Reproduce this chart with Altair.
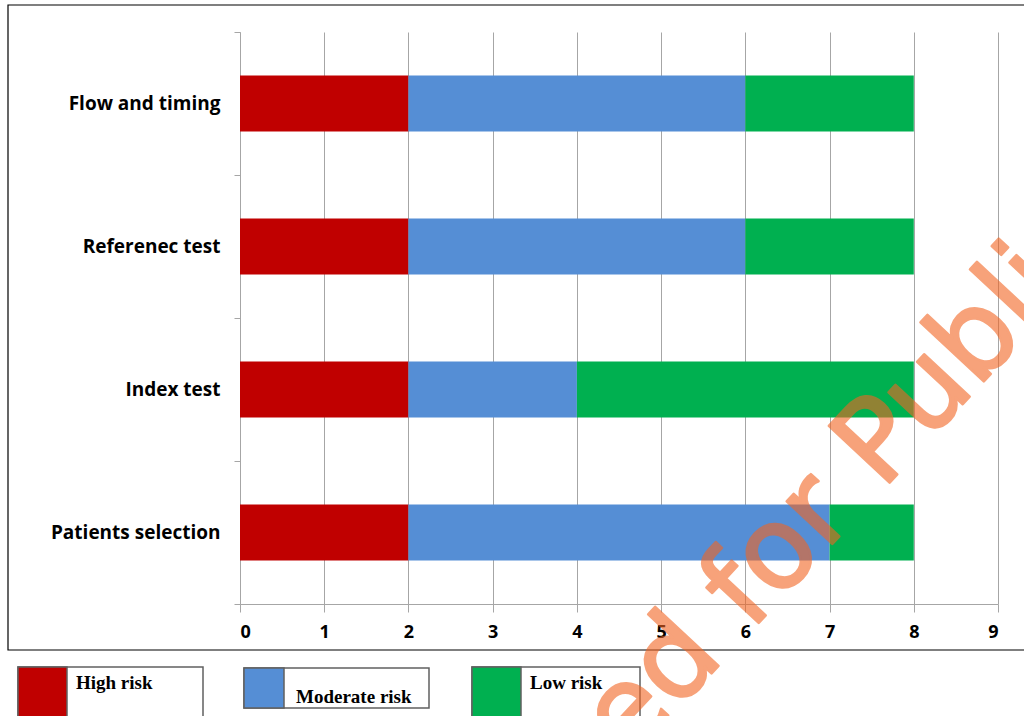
import altair as alt
import pandas as pd

categories = ["Flow and timing", "Referenec test", "Index test", "Patients selection"]
series = ["High risk", "Moderate risk", "Low risk"]
colors = ["#C00000", "#558ED5", "#00B050"]
high = [2, 2, 2, 2]
moderate = [4, 4, 2, 5]
low = [2, 2, 4, 1]
x_ticks = list(range(0, 10))
watermark = "Accepted for Publication"

rows = []
for i, c in enumerate(categories):
    for j, vals in enumerate([high, moderate, low]):
        rows.append({"category": c, "series": series[j], "order": j, "value": vals[i]})
df = pd.DataFrame(rows)

GRAY = "#a6a6a6"
W, H = 758, 572

bars = alt.Chart(df).mark_bar(height={"band": 56 / 143}).encode(
    x=alt.X("value:Q", stack="zero",
            scale=alt.Scale(domain=[0, 9], nice=False),
            axis=alt.Axis(values=x_ticks, grid=True, gridColor=GRAY, gridWidth=1,
                          domainColor=GRAY, tickColor=GRAY, tickSize=8,
                          labelFont="Open Sans", labelFontWeight="bold", labelFontSize=18,
                          labelColor="#000000", labelPadding=11, title=None)),
    y=alt.Y("category:N", sort=categories,
            scale=alt.Scale(paddingInner=0, paddingOuter=0),
            axis=alt.Axis(tickBand="extent", grid=False, domainColor=GRAY, tickColor=GRAY,
                          tickSize=6, labelFont="Open Sans", labelFontWeight="bold",
                          labelFontSize=19, labelColor="#000000", labelPadding=14,
                          title=None)),
    color=alt.Color("series:N", sort=series,
                    scale=alt.Scale(domain=series, range=colors), legend=None),
    order=alt.Order("order:Q"),
)

one = pd.DataFrame({"k": [0]})

frame = alt.Chart(one).mark_rect(fill=None, stroke="#000000", strokeWidth=1.2).encode(
    x=alt.value(-232), x2=alt.value(800), y=alt.value(-27), y2=alt.value(618)
)

layers = [frame, bars]

leg_pos = [(-222, -173, 635, 700, -164, 651),
           (4, 44, 636, 676, 56, 665),
           (232, 281, 635, 700, 290, 651)]
for (x0, x1, y0, y1, tx, ty), s, col in zip(leg_pos, series, colors):
    box_right = x0 + (185 if s != "Low risk" else 168)
    layers.append(alt.Chart(one).mark_rect(fill="white", stroke="#606060", strokeWidth=1.5).encode(
        x=alt.value(x0), x2=alt.value(box_right), y=alt.value(y0), y2=alt.value(y1)))
    layers.append(alt.Chart(one).mark_rect(fill=col, stroke="#606060", strokeWidth=1.5).encode(
        x=alt.value(x0), x2=alt.value(x1), y=alt.value(y0), y2=alt.value(y1)))
    layers.append(alt.Chart(one).mark_text(text=s, font="Liberation Serif", fontWeight="bold",
                                            fontSize=19, align="left", baseline="middle",
                                            color="#000000").encode(
        x=alt.value(tx), y=alt.value(ty)))

wm = alt.Chart(one).mark_text(text=watermark, font="DejaVu Sans", fontSize=114,
                              angle=313, align="center", baseline="alphabetic",
                              color="#F26522", stroke="#F26522", strokeWidth=2.5,
                              strokeJoin="round", opacity=0.6).encode(
    x=alt.value(596), y=alt.value(508))
layers.append(wm)

chart = alt.layer(*layers).properties(
    width=W, height=H,
    autosize=alt.AutoSizeParams(type="none"),
    padding={"left": 240, "top": 32, "right": 26, "bottom": 112},
    background="white",
).configure_view(strokeWidth=0)

chart.save("out.html", embed_options={"renderer": "svg", "actions": False})
